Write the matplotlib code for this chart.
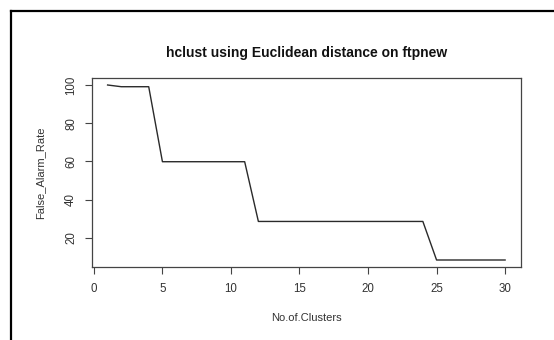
import numpy as np
import matplotlib.pyplot as plt
from matplotlib.lines import Line2D

clusters = list(range(1, 31))
false_alarm = [100, 99.1, 99.1, 99.1] + [59.8] * 7 + [28.5] * 13 + [8.3] * 6
xticks = [0, 5, 10, 15, 20, 25, 30]
yticks = [20, 40, 60, 80, 100]

plt.rcParams['font.family'] = ['Liberation Sans', 'DejaVu Sans']

W, H = 554, 340
fig = plt.figure(figsize=(W / 100, H / 100), dpi=100)

# outer frame of the screenshot (top and left visible)
fig.add_artist(Line2D([11 / W, 11 / W], [0, 1 - 11 / H], color='black', lw=1.6))
fig.add_artist(Line2D([11 / W, 1], [1 - 11 / H, 1 - 11 / H], color='black', lw=1.6))

ax = fig.add_axes([91.7 / W, 1 - 267 / H, (521 - 91.7) / W, (267 - 78) / H])
ax.plot(clusters, false_alarm, color='#2a2a2a', lw=1.0)

# R style 4% padding
xr = (min(clusters), max(clusters))
yr = (min(false_alarm), max(false_alarm))
ax.set_xlim(xr[0] - 0.04 * (xr[1] - xr[0]), xr[1] + 0.04 * (xr[1] - xr[0]))
ax.set_ylim(yr[0] - 0.04 * (yr[1] - yr[0]), yr[1] + 0.04 * (yr[1] - yr[0]))

ax.set_xticks(xticks)
ax.set_yticks(yticks)
ax.set_yticklabels([str(v) for v in yticks], rotation=90, va='center')
ax.tick_params(length=5, width=0.8, color='#444444', labelcolor='#333333',
               labelsize=8.3, pad=6.5)
ax.tick_params(axis='y', pad=5.5)
for s in ax.spines.values():
    s.set_color('#444444')
    s.set_linewidth(0.9)

ax.set_title('hclust using Euclidean distance on ftpnew', fontsize=10,
             fontweight='bold', color='#111111', pad=15)
ax.set_xlabel('No.of.Clusters', fontsize=8, color='#333333', labelpad=13)
ax.set_ylabel('False_Alarm_Rate', fontsize=8, color='#333333', labelpad=14)

fig.savefig('out.png', dpi=100)
